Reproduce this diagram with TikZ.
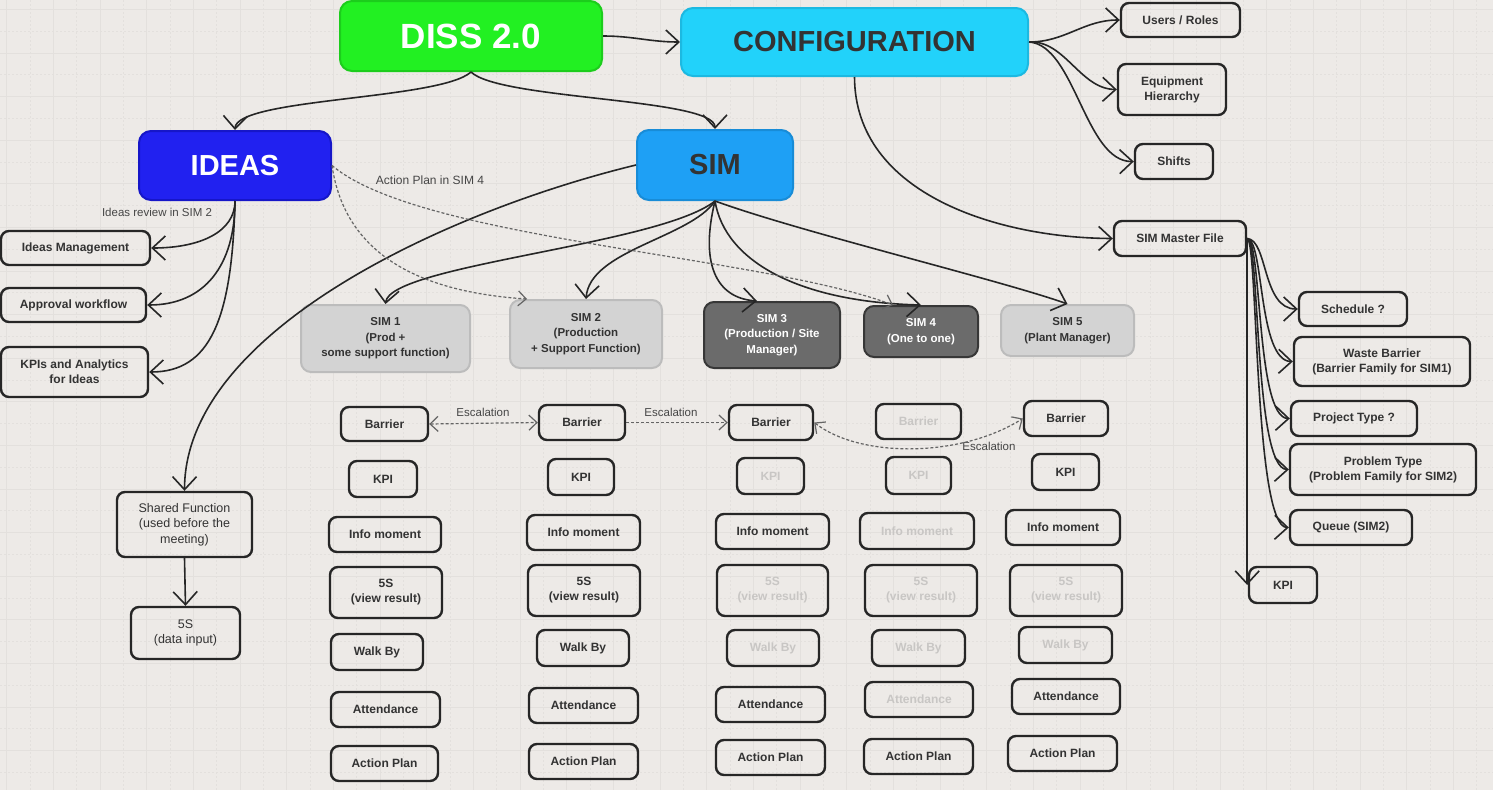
\documentclass[tikz,border=0pt]{standalone}
\usepackage{fontspec}
\setmainfont{Liberation Sans}
\usetikzlibrary{arrows.meta}
\definecolor{bg}{RGB}{237,234,231}
\definecolor{gridc}{RGB}{227,224,221}
\definecolor{ink}{RGB}{38,38,38}
\definecolor{txt}{RGB}{51,51,51}
\definecolor{faint}{RGB}{200,198,196}
\definecolor{dashc}{RGB}{100,100,100}
\definecolor{lblc}{RGB}{70,70,70}
\definecolor{dissg}{RGB}{34,240,34}
\definecolor{dissb}{RGB}{28,205,28}
\definecolor{cfgc}{RGB}{34,210,250}
\definecolor{cfgb}{RGB}{28,185,225}
\definecolor{ideac}{RGB}{33,33,240}
\definecolor{ideab}{RGB}{22,22,200}
\definecolor{simc}{RGB}{30,160,245}
\definecolor{simb}{RGB}{24,140,215}
\definecolor{lgray}{RGB}{211,211,211}
\definecolor{lgrayb}{RGB}{188,188,188}
\definecolor{dgray}{RGB}{107,107,107}
\definecolor{dgrayb}{RGB}{55,55,55}
\begin{document}
\begin{tikzpicture}[x=1pt,y=-1pt,
  box/.style={draw=ink, line width=2.4pt, rounded corners=8pt, align=center, text=txt,
    font=\fontsize{12}{15}\selectfont\bfseries, inner sep=1pt},
  faded/.style={text=faint},
  bigbox/.style={line width=2pt, rounded corners=12pt, align=center},
  simbox/.style={line width=2pt, rounded corners=10pt, align=center, inner sep=1pt,
    font=\fontsize{11.5}{15.5}\selectfont\bfseries},
  arr/.style={draw=ink, line width=1.6pt, -{Straight Barb[length=13pt,width=24pt]}},
  dsh/.style={draw=dashc, line width=1.2pt, dash pattern=on 3pt off 2pt, -{Straight Barb[length=8pt,width=15pt]}},
  lbl/.style={font=\fontsize{11.5}{13}\selectfont, text=lblc, inner sep=0pt},
  gsolid/.style={draw=gridc, line width=0.8pt},
  gdot/.style={draw=gridc, line width=0.8pt, dash pattern=on 1.5pt off 2.5pt}
]
\useasboundingbox (0,0) rectangle (1493,790);
\fill[bg] (0,0) rectangle (1493,790);
% grid
\foreach \i in {0,...,32} {
  \draw[gsolid] ({6.7+46.67*\i},0) -- ++(0,790);
  \draw[gdot] ({30+46.67*\i},0) -- ++(0,790);
}
\foreach \j in {0,...,18} {
  \draw[gsolid] (0,{9.3+43.6*\j}) -- ++(1493,0);
  \draw[gdot] (0,{31.1+43.6*\j}) -- ++(1493,0);
}

% main nodes
\node[bigbox, fill=dissg, draw=dissb, minimum width=262pt, minimum height=70pt, text=white,
  font=\fontsize{35}{40}\selectfont\bfseries] (diss) at (471,36) {DISS 2.0};
\node[bigbox, fill=cfgc, draw=cfgb, minimum width=347pt, minimum height=68pt, text=txt,
  font=\fontsize{29}{32}\selectfont\bfseries] (config) at (854.5,42) {CONFIGURATION};
\node[bigbox, fill=ideac, draw=ideab, minimum width=192pt, minimum height=69pt, text=white,
  font=\fontsize{29}{32}\selectfont\bfseries] (ideas) at (235,165.5) {IDEAS};
\node[bigbox, fill=simc, draw=simb, minimum width=156pt, minimum height=70pt, text=txt,
  font=\fontsize{29}{32}\selectfont\bfseries] (sim) at (715,165) {SIM};

% configuration children
\node[box, minimum width=119pt, minimum height=34pt] (users) at (1180.5,20) {Users / Roles};
\node[box, minimum width=108pt, minimum height=51pt] (equip) at (1172,89.5) {Equipment\\Hierarchy};
\node[box, minimum width=78pt, minimum height=35pt] (shifts) at (1174,161.5) {Shifts};
\node[box, minimum width=132pt, minimum height=35pt] (smf) at (1180,238.5) {SIM Master File};
\node[box, minimum width=108pt, minimum height=34pt] (sched) at (1353,309) {Schedule ?};
\node[box, minimum width=176pt, minimum height=49pt] (waste) at (1382,361.5) {Waste Barrier\\(Barrier Family for SIM1)};
\node[box, minimum width=126pt, minimum height=35pt] (proj) at (1354,418.5) {Project Type ?};
\node[box, minimum width=186pt, minimum height=51pt] (prob) at (1383,469.5) {Problem Type\\(Problem Family for SIM2)};
\node[box, minimum width=122pt, minimum height=35pt] (queue) at (1351,527.5) {Queue (SIM2)};
\node[box, minimum width=68pt, minimum height=36pt] (kpir) at (1283,585) {KPI};

% ideas children
\node[box, minimum width=149pt, minimum height=34pt] (im) at (75.5,248) {Ideas Management};
\node[box, minimum width=145pt, minimum height=34pt] (aw) at (73.5,305) {Approval workflow};
\node[box, minimum width=147pt, minimum height=50pt] (kpia) at (74.5,372) {KPIs and Analytics\\for Ideas};
\node[box, minimum width=135pt, minimum height=65pt, font=\fontsize{12.5}{15.5}\selectfont] (shared) at (184.5,524.5) {Shared Function\\(used before the\\meeting)};
\node[box, minimum width=109pt, minimum height=52pt, font=\fontsize{12.5}{15.5}\selectfont] (s5in) at (185.5,633) {5S\\(data input)};

% SIM level boxes
\node[simbox, fill=lgray, draw=lgrayb, text=txt, minimum width=169pt, minimum height=67pt] (sim1) at (385.5,338.5) {SIM 1\\(Prod +\\some support function)};
\node[simbox, fill=lgray, draw=lgrayb, text=txt, minimum width=152pt, minimum height=68pt] (sim2) at (586,334) {SIM 2\\(Production\\+ Support Function)};
\node[simbox, fill=dgray, draw=dgrayb, text=white, minimum width=136pt, minimum height=66pt] (sim3) at (772,335) {SIM 3\\(Production / Site\\Manager)};
\node[simbox, fill=dgray, draw=dgrayb, text=white, minimum width=114pt, minimum height=51pt] (sim4) at (921,331.5) {SIM 4\\(One to one)};
\node[simbox, fill=lgray, draw=lgrayb, text=txt, minimum width=133pt, minimum height=51pt] (sim5) at (1067.5,330.5) {SIM 5\\(Plant Manager)};

% column 1
\node[box, minimum width=87pt, minimum height=34pt] (b1) at (384.5,424) {Barrier};
\node[box, minimum width=68pt, minimum height=36pt] (k1) at (383,479) {KPI};
\node[box, minimum width=112pt, minimum height=35pt] (i1) at (385,534.5) {Info moment};
\node[box, minimum width=112pt, minimum height=51pt] (f1) at (386,592.5) {5S\\(view result)};
\node[box, minimum width=92pt, minimum height=36pt] (w1) at (377,652) {Walk By};
\node[box, minimum width=109pt, minimum height=35pt] (a1) at (385.5,709.5) {Attendance};
\node[box, minimum width=107pt, minimum height=35pt] (p1) at (384.5,763.5) {Action Plan};
% column 2
\node[box, minimum width=86pt, minimum height=35pt] (b2) at (582,422.5) {Barrier};
\node[box, minimum width=66pt, minimum height=36pt] (k2) at (581,477) {KPI};
\node[box, minimum width=113pt, minimum height=35pt] (i2) at (583.5,532.5) {Info moment};
\node[box, minimum width=112pt, minimum height=51pt] (f2) at (584,590.5) {5S\\(view result)};
\node[box, minimum width=92pt, minimum height=36pt] (w2) at (583,648) {Walk By};
\node[box, minimum width=109pt, minimum height=35pt] (a2) at (583.5,705.5) {Attendance};
\node[box, minimum width=109pt, minimum height=35pt] (p2) at (583.5,761.5) {Action Plan};
% column 3
\node[box, minimum width=84pt, minimum height=35pt] (b3) at (771,422.5) {Barrier};
\node[box, faded, minimum width=67pt, minimum height=36pt] (k3) at (770.5,476) {KPI};
\node[box, minimum width=113pt, minimum height=35pt] (i3) at (772.5,531.5) {Info moment};
\node[box, faded, minimum width=111pt, minimum height=51pt] (f3) at (772.5,590.5) {5S\\(view result)};
\node[box, faded, minimum width=92pt, minimum height=36pt] (w3) at (773,648) {Walk By};
\node[box, minimum width=109pt, minimum height=35pt] (a3) at (770.5,704.5) {Attendance};
\node[box, minimum width=109pt, minimum height=35pt] (p3) at (770.5,757.5) {Action Plan};
% column 4
\node[box, faded, minimum width=85pt, minimum height=35pt] (b4) at (918.5,421.5) {Barrier};
\node[box, faded, minimum width=65pt, minimum height=37pt] (k4) at (918.5,475.5) {KPI};
\node[box, faded, minimum width=114pt, minimum height=36pt] (i4) at (917,531) {Info moment};
\node[box, faded, minimum width=112pt, minimum height=51pt] (f4) at (921,590.5) {5S\\(view result)};
\node[box, faded, minimum width=93pt, minimum height=36pt] (w4) at (918.5,648) {Walk By};
\node[box, faded, minimum width=108pt, minimum height=35pt] (a4) at (919,699.5) {Attendance};
\node[box, minimum width=109pt, minimum height=35pt] (p4) at (918.5,756.5) {Action Plan};
% column 5
\node[box, minimum width=84pt, minimum height=35pt] (b5) at (1066,418.5) {Barrier};
\node[box, minimum width=67pt, minimum height=36pt] (k5) at (1065.5,472) {KPI};
\node[box, minimum width=114pt, minimum height=35pt] (i5) at (1063,527.5) {Info moment};
\node[box, faded, minimum width=112pt, minimum height=51pt] (f5) at (1066,590.5) {5S\\(view result)};
\node[box, faded, minimum width=93pt, minimum height=36pt] (w5) at (1065.5,645) {Walk By};
\node[box, minimum width=108pt, minimum height=35pt] (a5) at (1066,696.5) {Attendance};
\node[box, minimum width=109pt, minimum height=35pt] (p5) at (1062.5,753.5) {Action Plan};

% labels
\node[lbl] (lreview) at (157,212) {Ideas review in SIM 2};
\node[lbl, font=\fontsize{12}{13}\selectfont] (laction) at (430,180) {Action Plan in SIM 4};
\node[lbl] (lesc1) at (483,412) {Escalation};
\node[lbl] (lesc2) at (671,412) {Escalation};
\node[lbl] (lesc3) at (989,446) {Escalation};

% connectors: top level
\draw[arr] (diss.east) to[out=0,in=180] (config.west);
\draw[arr] (diss.south) .. controls (440,100) and (236,98) .. (ideas.north);
\draw[arr] (diss.south) .. controls (500,100) and (715,98) .. (sim.north);

% configuration
\draw[arr] (config.east) to[out=0,in=180] (users.west);
\draw[arr] (config.east) .. controls (1065,40) and (1080,89) .. (equip.west);
\draw[arr] (config.east) .. controls (1075,45) and (1085,162) .. (shifts.west);
\draw[arr] (config.south) .. controls (855,195) and (1000,238) .. (smf.west);

% SIM master file
\draw[arr] (smf.east) .. controls (1268,240) and (1262,309) .. (sched.west);
\draw[arr] (smf.east) .. controls (1264,240) and (1258,361) .. (waste.west);
\draw[arr] (smf.east) .. controls (1262,240) and (1256,418) .. (proj.west);
\draw[arr] (smf.east) .. controls (1260,240) and (1254,469) .. (prob.west);
\draw[arr] (smf.east) .. controls (1258,240) and (1254,527) .. (queue.west);
\draw[arr] (smf.east) -- (smf.east |- kpir.west);

% ideas
\draw[arr] (ideas.south) .. controls (235,232) and (200,248) .. (im.east);
\draw[arr] (ideas.south) .. controls (235,265) and (205,305) .. (aw.east);
\draw[arr] (ideas.south) .. controls (232,320) and (210,372) .. (kpia.east);
\draw[arr] (sim.west) .. controls (450,210) and (185,330) .. (shared.north);
\draw[arr] (shared.south) -- (s5in.north);

% sim children
\draw[arr] (sim.south) .. controls (660,245) and (390,265) .. (sim1.north);
\draw[arr] (sim.south) .. controls (690,238) and (590,250) .. (sim2.north);
\draw[arr] (sim.south) .. controls (700,262) and (715,298) .. ([xshift=-15pt]sim3.north);
\draw[arr] (sim.south) .. controls (725,262) and (800,302) .. (sim4.north);
\draw[arr] (sim.south) .. controls (800,232) and (1000,280) .. (sim5.north);

% dashed idea links
\draw[dsh] (ideas.east) .. controls (345,255) and (420,292) .. ([xshift=18pt]sim2.north west);
\draw[dsh] (ideas.east) .. controls (420,240) and (760,255) .. ([xshift=30pt]sim4.north west);

% escalation
\draw[dsh, {Straight Barb[length=8pt,width=15pt]}-{Straight Barb[length=8pt,width=15pt]}] (b1.east) -- (b2.west);
\draw[dsh] (b2.east) -- (b3.west);
\draw[dsh, {Straight Barb[length=8pt,width=15pt]}-{Straight Barb[length=8pt,width=15pt]}] (b3.east) .. controls (860,458) and (960,458) .. (b5.west);
\end{tikzpicture}
\end{document}
